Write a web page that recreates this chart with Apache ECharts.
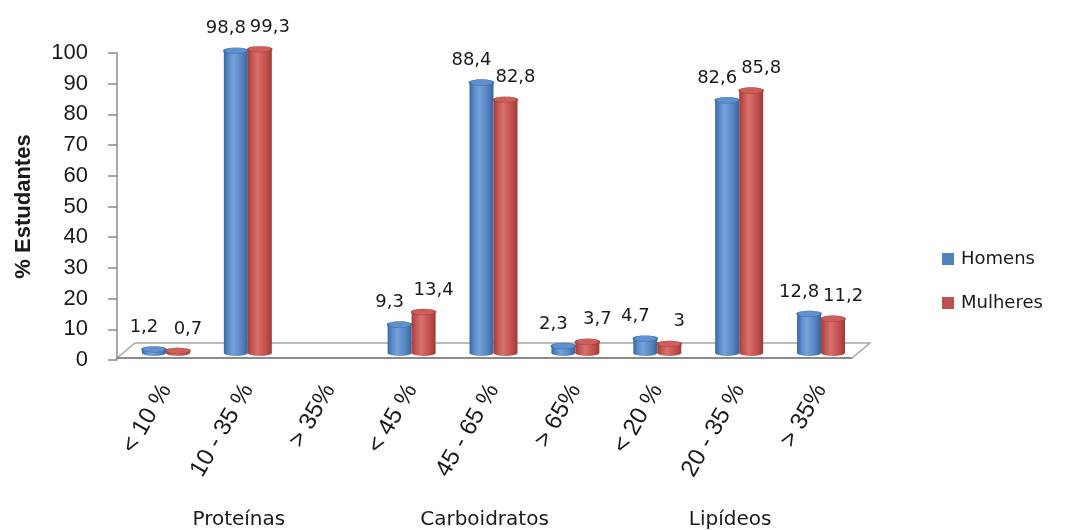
<!DOCTYPE html>
<html>
<head>
<meta charset="utf-8">
<script src="https://cdn.jsdelivr.net/npm/echarts@6/dist/echarts.min.js"></script>
<style>
  html, body { margin: 0; padding: 0; background: #ffffff; }
  #chart { width: 1066px; height: 530px; }
</style>
</head>
<body>
<div id="chart"></div>
<script>
// Faixas de ingestão por macronutriente
const categories = ['< 10 %', '10 - 35 %', '> 35%', '< 45 %', '45 - 65 %', '> 65%', '< 20 %', '20 - 35 %', '> 35%'];
const groups = ['Proteínas', 'Carboidratos', 'Lipídeos'];
// % de estudantes em cada faixa
const homens = [1.2, 98.8, null, 9.3, 88.4, 2.3, 4.7, 82.6, 12.8];
const mulheres = [0.7, 99.3, null, 13.4, 82.8, 3.7, 3, 85.8, 11.2];
const seriesNames = ['Homens', 'Mulheres'];
const yMin = 0, yMax = 100, yStep = 10;

const SANS = '"Liberation Sans", Arial, sans-serif';
const WIDE = '"DejaVu Sans", Verdana, sans-serif';
const BAR_W = 24;
const palettes = {
  Homens: {
    base: '#4F81BD',
    body: ['#3a679f', '#5a8ccc', '#76a2da', '#5584c2', '#3a659c'],
    top: '#5f90cf', rim: '#3d6aa3'
  },
  Mulheres: {
    base: '#C0504D',
    body: ['#a03f3c', '#c75854', '#d9706c', '#c24f4b', '#9c3b38'],
    top: '#cd5f5b', rim: '#a3413e'
  }
};

function fmt(v) { return String(v).replace('.', ','); }

function toPairs(arr) {
  const out = [];
  arr.forEach((v, i) => { if (v != null) out.push([i, v]); });
  return out;
}

// Coluna cilíndrica: corpo com gradiente, base e tampa elípticas, rótulo do valor
function cylinder(shift, pal, labelShift) {
  return function (params, api) {
    const v = api.value(1);
    const top = api.coord([api.value(0), v]);
    const base = api.coord([api.value(0), 0]);
    const cx = top[0] + shift;
    const r = BAR_W / 2;
    const body = pal.body;
    const fill = new echarts.graphic.LinearGradient(0, 0, 1, 0, [
      { offset: 0, color: body[0] },
      { offset: 0.2, color: body[1] },
      { offset: 0.4, color: body[2] },
      { offset: 0.75, color: body[3] },
      { offset: 1, color: body[4] }
    ]);
    return {
      type: 'group',
      children: [
        { type: 'circle', x: cx, y: base[1], scaleY: 0.25, shape: { cx: 0, cy: 0, r: r }, style: { fill: fill } },
        { type: 'rect', shape: { x: cx - r, y: top[1], width: BAR_W, height: base[1] - top[1] }, style: { fill: fill } },
        { type: 'circle', x: cx, y: top[1], scaleY: 0.25, shape: { cx: 0, cy: 0, r: r },
          style: { fill: pal.top, stroke: pal.rim, lineWidth: 1.5 } },
        { type: 'text', x: cx + labelShift, y: top[1] - 13,
          style: { text: fmt(v), fill: '#1a1a1a', font: '18px ' + WIDE, align: 'center', verticalAlign: 'bottom' } }
      ]
    };
  };
}

const chart = echarts.init(document.getElementById('chart'), null, { renderer: 'canvas' });

chart.setOption({
  animation: false,
  backgroundColor: '#ffffff',
  grid: [
    { left: 125, right: 204, top: 47, bottom: 177 },
    { left: 117, right: 204, top: 53, bottom: 170 }
  ],
  legend: {
    orient: 'vertical',
    left: 937,
    top: 245,
    itemGap: 26,
    itemWidth: 12,
    itemHeight: 12,
    icon: 'rect',
    data: seriesNames,
    textStyle: { fontFamily: WIDE, fontSize: 18, color: '#1a1a1a', padding: [0, 0, 0, 2] }
  },
  xAxis: [
    {
      type: 'category', gridIndex: 0, data: categories,
      axisLine: { show: false }, axisTick: { show: false },
      axisLabel: { rotate: 60, margin: 33, fontFamily: SANS, fontSize: 24, color: '#1a1a1a', interval: 0 }
    },
    {
      type: 'category', gridIndex: 0, data: groups, position: 'bottom', offset: 157,
      axisLine: { show: false }, axisTick: { show: false },
      axisLabel: { margin: 0, fontFamily: WIDE, fontSize: 20, color: '#1a1a1a', padding: [0, 18, 0, 0] }
    },
    { type: 'category', gridIndex: 1, data: categories, show: false }
  ],
  yAxis: [
    { type: 'value', gridIndex: 0, min: yMin, max: yMax, interval: yStep, show: false },
    {
      type: 'value', gridIndex: 1, min: yMin, max: yMax, interval: yStep,
      name: '% Estudantes', nameLocation: 'middle', nameRotate: 90, nameGap: 82,
      nameTextStyle: { fontFamily: SANS, fontWeight: 'bold', fontSize: 22, color: '#1a1a1a' },
      axisLine: { show: true, lineStyle: { color: '#8c8c8c', width: 1.5 } },
      axisTick: { show: true, length: 9, lineStyle: { color: '#8c8c8c', width: 1.5 } },
      splitLine: { show: false },
      axisLabel: { margin: 29, fontFamily: SANS, fontSize: 22, color: '#1a1a1a' }
    }
  ],
  graphic: [
    {
      // piso do gráfico 3D
      type: 'polygon', z: 0,
      shape: { points: [[117, 358], [852, 358], [870, 343], [135, 343]] },
      style: { fill: '#ffffff', stroke: '#a6a6a6', lineWidth: 1.5 }
    },
    {
      type: 'line', z: 0,
      shape: { x1: 117, y1: 358, x2: 852, y2: 358 },
      style: { stroke: '#8a8a8a', lineWidth: 2 }
    }
  ],
  series: [
    {
      name: 'Homens', type: 'custom', xAxisIndex: 0, yAxisIndex: 0, z: 3,
      itemStyle: { color: palettes.Homens.base },
      encode: { x: 0, y: 1 },
      renderItem: cylinder(-BAR_W / 2, palettes.Homens, -10),
      data: toPairs(homens)
    },
    {
      name: 'Mulheres', type: 'custom', xAxisIndex: 0, yAxisIndex: 0, z: 3,
      itemStyle: { color: palettes.Mulheres.base },
      encode: { x: 0, y: 1 },
      renderItem: cylinder(BAR_W / 2, palettes.Mulheres, 10),
      data: toPairs(mulheres)
    }
  ]
});
</script>
</body>
</html>
